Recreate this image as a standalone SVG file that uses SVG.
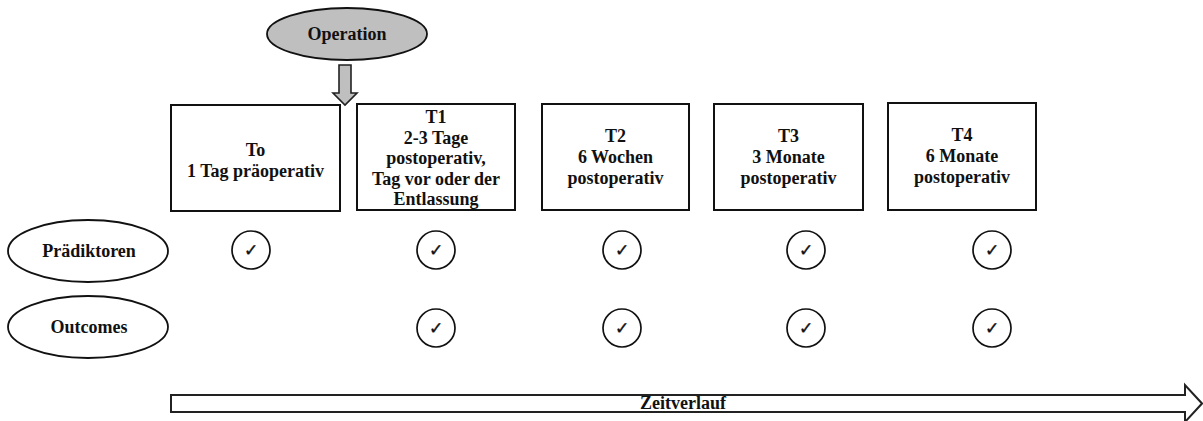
<svg xmlns="http://www.w3.org/2000/svg" width="1203" height="421" viewBox="0 0 1203 421">
  <style>
    .lbl { font-family: "Liberation Serif", "Times New Roman", serif; font-weight: bold; font-size: 18px; fill: #111; text-anchor: middle; }
    .box { fill: #fff; stroke: #111; stroke-width: 2; }
    .oval { fill: #fff; stroke: #111; stroke-width: 1.8; }
    .chk { fill: #fff; stroke: #111; stroke-width: 1.7; }
    .tick { font-family: "DejaVu Sans", sans-serif; font-weight: bold; font-size: 17px; fill: #111; text-anchor: middle; stroke: #111; stroke-width: 0.4; }
  </style>
  <defs>
    <g id="check">
      <circle class="chk" cx="0" cy="0" r="19"/>
      <text class="tick" x="0" y="6">✓</text>
    </g>
  </defs>
  <rect width="1203" height="421" fill="#fff"/>

  <!-- Operation event -->
  <g id="operation">
    <ellipse cx="347" cy="34" rx="80" ry="26" fill="#bfbfbf" stroke="#111" stroke-width="1.8"/>
    <text class="lbl" x="347" y="40">Operation</text>
  </g>

  <!-- Arrows -->
  <g id="connectors">
    <path d="M339,65 H351 V93 H357 L345,105 L333,93 H339 Z" fill="#bfbfbf" stroke="#222" stroke-width="1.6"/>
    <path d="M171,395 H1185 V385 L1202,403.5 L1185,422 V412 H171 Z" fill="#fff" stroke="#222" stroke-width="2"/>
  </g>

  <!-- Time points -->
  <g id="t0">
    <rect class="box" x="171" y="105" width="169" height="106"/>
    <text class="lbl" x="255.5" y="156">To</text>
    <text class="lbl" x="255.5" y="177">1 Tag präoperativ</text>
  </g>
  <g id="t1">
    <rect class="box" x="357" y="104" width="158" height="106"/>
    <text class="lbl" x="436" y="123">T1</text>
    <text class="lbl" x="436" y="144">2-3 Tage</text>
    <text class="lbl" x="436" y="164">postoperativ,</text>
    <text class="lbl" x="436" y="185">Tag vor oder der</text>
    <text class="lbl" x="436" y="205">Entlassung</text>
  </g>
  <g id="t2">
    <rect class="box" x="542" y="104" width="147" height="106"/>
    <text class="lbl" x="615.5" y="142">T2</text>
    <text class="lbl" x="615.5" y="163">6 Wochen</text>
    <text class="lbl" x="615.5" y="184">postoperativ</text>
  </g>
  <g id="t3">
    <rect class="box" x="714" y="104" width="149" height="106"/>
    <text class="lbl" x="788.5" y="142">T3</text>
    <text class="lbl" x="788.5" y="163">3 Monate</text>
    <text class="lbl" x="788.5" y="184">postoperativ</text>
  </g>
  <g id="t4">
    <rect class="box" x="888" y="103" width="148" height="107"/>
    <text class="lbl" x="962" y="141">T4</text>
    <text class="lbl" x="962" y="162">6 Monate</text>
    <text class="lbl" x="962" y="183">postoperativ</text>
  </g>

  <!-- Row labels -->
  <g id="praediktoren">
    <ellipse class="oval" cx="88" cy="251" rx="80" ry="31"/>
    <text class="lbl" x="89" y="257">Prädiktoren</text>
  </g>
  <g id="outcomes">
    <ellipse class="oval" cx="88" cy="327" rx="80" ry="31"/>
    <text class="lbl" x="89" y="333">Outcomes</text>
  </g>

  <!-- Measurement marks -->
  <g id="marks">
    <use href="#check" x="251" y="250"/>
    <use href="#check" x="436" y="250"/>
    <use href="#check" x="622" y="250"/>
    <use href="#check" x="806" y="250"/>
    <use href="#check" x="992" y="250"/>
    <use href="#check" x="436" y="328"/>
    <use href="#check" x="622" y="328"/>
    <use href="#check" x="806" y="328"/>
    <use href="#check" x="992" y="328"/>
  </g>

  <!-- Time axis -->
  <g id="zeitverlauf">
    <text class="lbl" x="683" y="409">Zeitverlauf</text>
  </g>
</svg>
